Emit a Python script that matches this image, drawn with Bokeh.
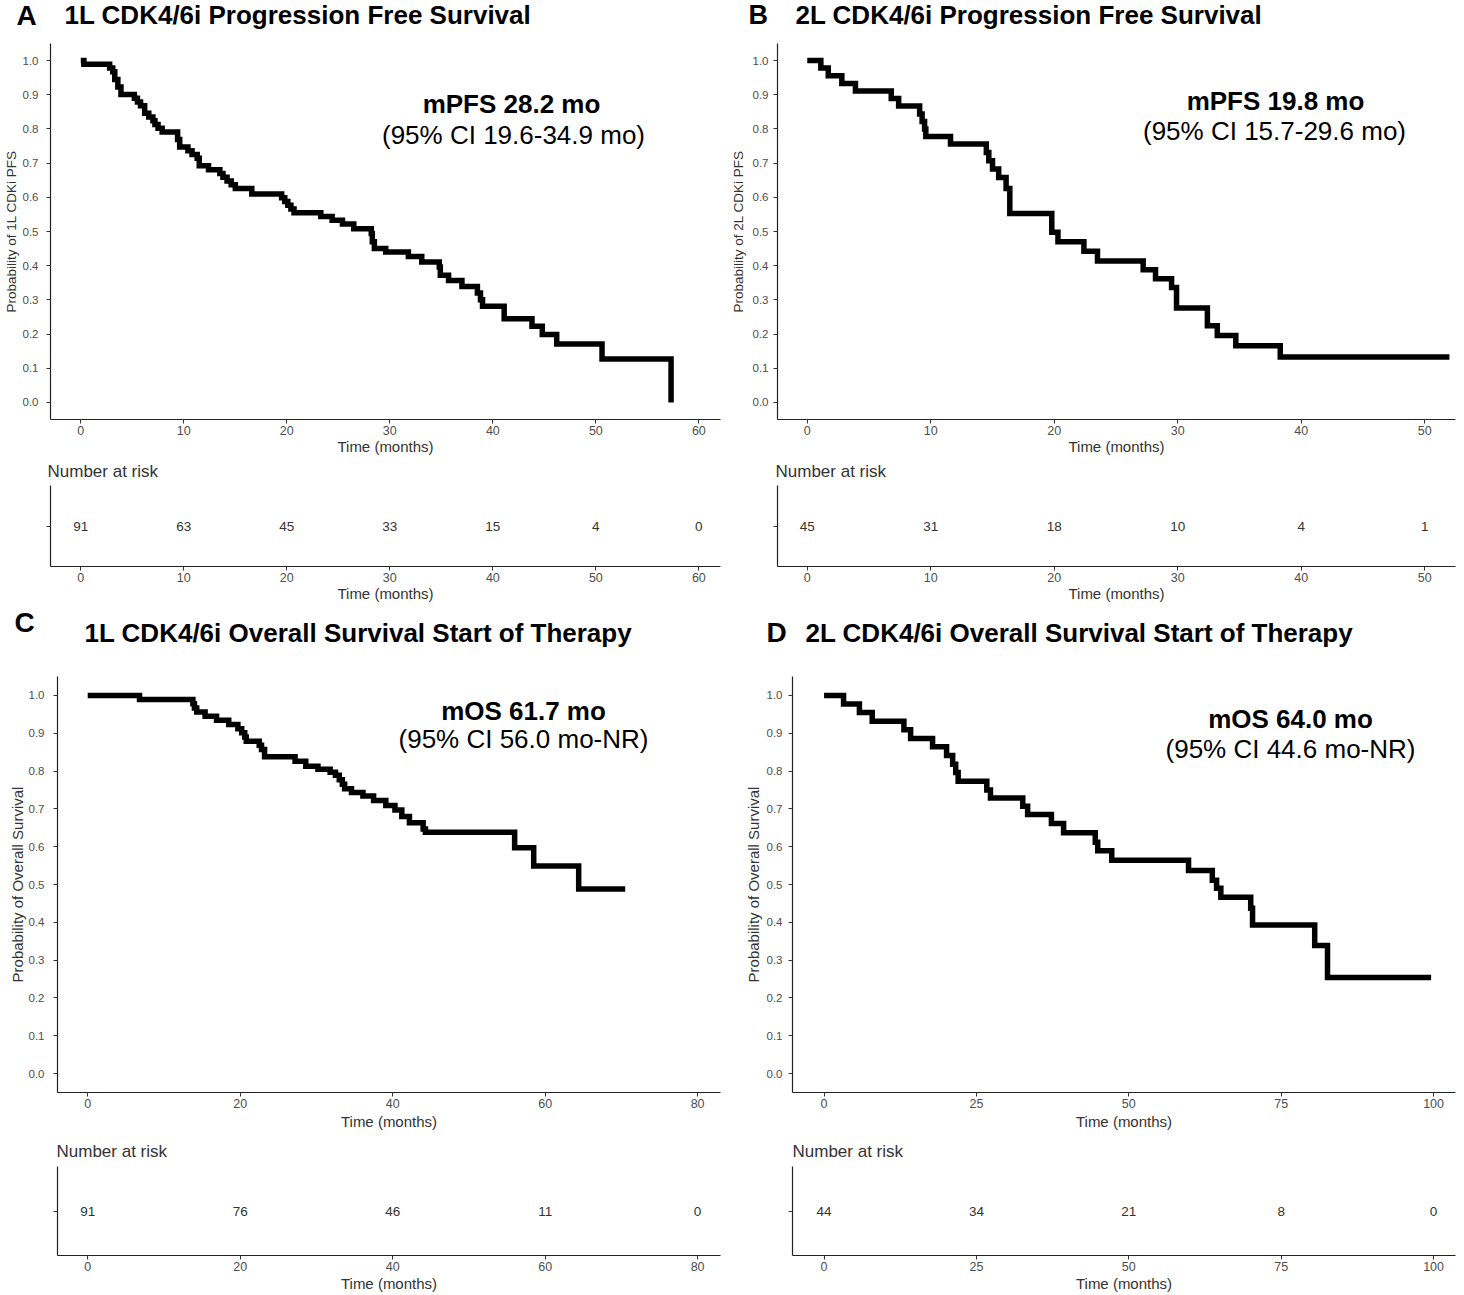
from bokeh.plotting import figure
from bokeh.models import Range1d, FixedTicker, Label, PrintfTickFormatter
from bokeh.layouts import column, row
from bokeh.embed import file_html
from bokeh.resources import INLINE
from bokeh.core.properties import value

FONT = "Liberation Sans"

# ---------------- data ----------------
# A: 1L CDK4/6i PFS  (time in months, survival after the step)
a_time = [0, 0.3, 2.8, 3.1, 3.3, 3.6, 3.9, 5.2, 5.5, 5.8, 6.2, 6.6, 7.0, 7.2, 7.5, 7.9,
          9.4, 9.6, 10.4, 10.8, 11.3, 11.5, 12.4, 13.5, 13.8, 14.2, 14.6, 15.0, 16.6,
          19.5, 19.8, 20.1, 20.4, 20.7, 23.3, 24.4, 25.4, 26.5, 28.2, 28.3, 28.5,
          29.6, 31.8, 33.1, 34.8, 34.9, 35.7, 37.0, 38.5, 38.8, 39.0, 41.1, 43.8,
          44.8, 46.2, 50.6, 57.3]
a_surv = [1.0, 0.989, 0.978, 0.967, 0.945, 0.923, 0.901, 0.890, 0.879, 0.868, 0.846,
          0.835, 0.824, 0.813, 0.802, 0.791, 0.769, 0.747, 0.736, 0.725, 0.714, 0.692,
          0.681, 0.670, 0.659, 0.648, 0.637, 0.626, 0.610, 0.599, 0.588, 0.577, 0.566,
          0.555, 0.544, 0.533, 0.522, 0.508, 0.494, 0.470, 0.450, 0.440, 0.427, 0.411,
          0.396, 0.372, 0.357, 0.339, 0.320, 0.300, 0.281, 0.245, 0.223, 0.199, 0.171,
          0.127, 0.0]
a_risk_t = [0, 10, 20, 30, 40, 50, 60]
a_risk_n = [91, 63, 45, 33, 15, 4, 0]

# B: 2L CDK4/6i PFS
b_time = [0, 1.1, 1.7, 2.8, 3.9, 6.8, 7.4, 9.1, 9.3, 9.5, 9.6, 11.6, 14.5, 14.7, 15.0,
          15.5, 16.1, 16.4, 19.8, 20.3, 22.4, 23.5, 27.2, 28.2, 29.5, 29.9, 32.4, 33.2,
          34.7, 38.3, 52.0]
b_surv = [1.0, 0.978, 0.956, 0.933, 0.911, 0.889, 0.867, 0.844, 0.822, 0.800, 0.778,
          0.756, 0.731, 0.707, 0.683, 0.658, 0.626, 0.553, 0.498, 0.470, 0.442, 0.414,
          0.388, 0.362, 0.336, 0.276, 0.224, 0.196, 0.166, 0.133, 0.133]
b_risk_t = [0, 10, 20, 30, 40, 50]
b_risk_n = [45, 31, 18, 10, 4, 1]

# C: 1L CDK4/6i OS
c_time = [0, 6.8, 13.8, 14.0, 14.3, 15.4, 16.9, 18.5, 19.7, 20.2, 20.6, 20.8, 22.5, 22.8,
          23.2, 27.2, 28.6, 30.2, 31.8, 32.5, 33.0, 33.4, 33.7, 34.6, 36.1, 37.5, 39.1,
          40.3, 41.2, 42.2, 44.0, 44.3, 56.0, 58.5, 64.4, 70.5]
c_surv = [1.0, 0.989, 0.978, 0.967, 0.956, 0.945, 0.934, 0.923, 0.912, 0.901, 0.890,
          0.879, 0.868, 0.857, 0.838, 0.826, 0.813, 0.805, 0.797, 0.789, 0.777, 0.765,
          0.753, 0.743, 0.734, 0.722, 0.709, 0.697, 0.680, 0.663, 0.647, 0.638, 0.597,
          0.549, 0.488, 0.488]
c_risk_t = [0, 20, 40, 60, 80]
c_risk_n = [91, 76, 46, 11, 0]

# D: 2L CDK4/6i OS
d_time = [0, 3.2, 5.8, 7.9, 13.1, 14.2, 17.8, 20.1, 21.1, 21.6, 22.0, 26.7, 27.3, 32.6,
          33.4, 37.3, 39.3, 44.5, 44.9, 47.2, 59.8, 63.7, 64.4, 65.1, 70.0, 70.3, 80.5,
          82.6, 99.6]
d_surv = [1.0, 0.977, 0.955, 0.932, 0.909, 0.886, 0.864, 0.841, 0.818, 0.796, 0.773,
          0.750, 0.729, 0.707, 0.685, 0.661, 0.637, 0.612, 0.589, 0.564, 0.537, 0.511,
          0.490, 0.466, 0.437, 0.393, 0.339, 0.254, 0.254]
d_risk_t = [0, 25, 50, 75, 100]
d_risk_n = [44, 34, 21, 8, 0]

y_ticks = [0.0, 0.1, 0.2, 0.3, 0.4, 0.5, 0.6, 0.7, 0.8, 0.9, 1.0]

# ---------------- helpers ----------------
def make_fig(ox, oy, w, h, mbl, mbr, mbt, mbb, xr, yr, axes=True):
    kw = {}
    if not axes:
        kw = dict(x_axis_type=None, y_axis_type=None)
    p = figure(width=w, height=h, output_backend="svg", toolbar_location=None,
               x_range=Range1d(*xr), y_range=Range1d(*yr),
               min_border_left=mbl, min_border_right=mbr,
               min_border_top=mbt, min_border_bottom=mbb, **kw)
    p.outline_line_color = None
    p.grid.visible = False
    p.background_fill_color = "white"
    p.border_fill_color = "white"
    p._ref = (ox + mbl, oy + h - mbb)  # frame left / bottom in page coordinates
    return p


def strip(ox, oy, w, h):
    return make_fig(ox, oy, w, h, 0, 0, 0, 0, (0, 1), (0, 1), axes=False)


def style_axis(ax, tick_fs, lab_fs, lab_standoff, tick_standoff):
    ax.axis_line_color = "#222222"
    ax.axis_line_width = 1.2
    ax.major_tick_line_color = "#333333"
    ax.major_tick_out = 4
    ax.major_tick_in = 0
    ax.minor_tick_line_color = None
    ax.major_label_text_font = FONT
    ax.major_label_text_font_size = f"{tick_fs}px"
    ax.major_label_text_color = "#4d4d4d"
    ax.major_label_standoff = tick_standoff
    ax.axis_label_text_font = FONT
    ax.axis_label_text_font_style = "normal"
    ax.axis_label_text_font_size = f"{lab_fs}px"
    ax.axis_label_text_color = "#333333"
    ax.axis_label_standoff = lab_standoff


def add_text(p, rx, ry, text, size, bold=False, align="left", color="black"):
    """Place a text whose visual centre line is at page position ry."""
    fl, fb = p._ref
    p.add_layout(Label(x=rx - fl, y=fb - ry, x_units="screen", y_units="screen",
                       text=text, text_font=FONT, text_font_size=f"{size}px",
                       text_font_style="bold" if bold else "normal",
                       text_align=align, text_baseline="middle", text_color=color))


def km(ox, oy, w, h, mbl, mbr, mbt, mbb, xr, xticks, t, s, ylabel, ylab_fs,
       ytick_standoff, ylab_standoff, xlab_standoff):
    p = make_fig(ox, oy, w, h, mbl, mbr, mbt, mbb, xr, (-0.05, 1.05))
    p.step(t, s, mode="after", line_width=5.5, line_color="black", line_join="miter")
    p.xaxis.ticker = FixedTicker(ticks=xticks)
    p.yaxis.ticker = FixedTicker(ticks=y_ticks)
    p.yaxis.formatter = PrintfTickFormatter(format="%.1f")
    p.xaxis.axis_label = "Time (months)"
    p.yaxis.axis_label = ylabel
    style_axis(p.xaxis[0], 12.5, 15, xlab_standoff, 2)
    style_axis(p.yaxis[0], 11.5, ylab_fs, ylab_standoff, ytick_standoff)
    return p


def risk(ox, oy, w, h, mbl, mbr, mbt, mbb, xr, xticks, n, xlab_standoff):
    p = make_fig(ox, oy, w, h, mbl, mbr, mbt, mbb, xr, (0, 1))
    p.text(x=xticks, y=[0.5] * len(xticks), text=[str(v) for v in n],
           text_font=value(FONT), text_font_size="13.5px", text_color="#333333",
           text_align="center", text_baseline="middle")
    p.xaxis.ticker = FixedTicker(ticks=xticks)
    p.yaxis.ticker = FixedTicker(ticks=[0.5])
    p.yaxis.major_label_overrides = {0.5: " "}
    p.xaxis.axis_label = "Time (months)"
    style_axis(p.xaxis[0], 12.5, 15, xlab_standoff, 2)
    style_axis(p.yaxis[0], 11.5, 12, 0, 0)
    return p


# ---------------- geometry (page coordinates) ----------------
LX, LW = 0, 727
RX, RW = 727, 735
H1Y, H1H = 0, 43
K1Y, K1H = 43, 415
N1Y, N1H = 458, 27
R1Y, R1H = 485, 121
H2Y, H2H = 606, 46
K2Y, K2H = 652, 481
N2Y, N2H = 1133, 33
R2Y, R2H = 1166, 128

XR_A = (-2.94, 62.1)
XR_B = (-2.41, 52.49)
XR_C = (-3.96, 83.0)
XR_D = (-5.18, 103.6)

# ---- headers ----
HA = strip(LX, H1Y, LW, H1H)
add_text(HA, 16, 15, "A", 28, bold=True)
add_text(HA, 64, 14, "1L CDK4/6i Progression Free Survival", 26, bold=True)
HB = strip(RX, H1Y, RW, H1H)
add_text(HB, 748, 14, "B", 27, bold=True)
add_text(HB, 795, 14, "2L CDK4/6i Progression Free Survival", 26, bold=True)

HC = strip(LX, H2Y, LW, H2H)
add_text(HC, 14, 622, "C", 28, bold=True)
add_text(HC, 84, 632, "1L CDK4/6i Overall Survival Start of Therapy", 26, bold=True)
HD = strip(RX, H2Y, RW, H2H)
add_text(HD, 766, 632, "D", 28, bold=True)
add_text(HD, 805, 632, "2L CDK4/6i Overall Survival Start of Therapy", 26, bold=True)

# ---- KM plots ----
A = km(LX, K1Y, LW, K1H, 50, 7, 0, 39, XR_A, a_risk_t, a_time, a_surv,
       "Probability of 1L CDKi PFS", 13.5, 8, 1, 0)
add_text(A, 511, 103, "mPFS 28.2 mo", 26, bold=True, align="center")
add_text(A, 513, 134, "(95% CI 19.6-34.9 mo)", 26, align="center")

B = km(RX, K1Y, RW, K1H, 50, 7, 0, 39, XR_B, b_risk_t, b_time, b_surv,
       "Probability of 2L CDKi PFS", 13.5, 5, 4, 0)
add_text(B, 1275, 100, "mPFS 19.8 mo", 26, bold=True, align="center")
add_text(B, 1274, 130, "(95% CI 15.7-29.6 mo)", 26, align="center")

C = km(LX, K2Y, LW, K2H, 57, 7, 0, 41, XR_C, c_risk_t, c_time, c_surv,
       "Probability of Overall Survival", 15, 9, 0, 2)
add_text(C, 523, 710, "mOS 61.7 mo", 26, bold=True, align="center")
add_text(C, 523, 738, "(95% CI 56.0 mo-NR)", 26, align="center")

D = km(RX, K2Y, RW, K2H, 65, 7, 24, 41, XR_D, d_risk_t, d_time, d_surv,
       "Probability of Overall Survival", 15, 6, 2, 2)
add_text(D, 1290, 718, "mOS 64.0 mo", 26, bold=True, align="center")
add_text(D, 1290, 748, "(95% CI 44.6 mo-NR)", 26, align="center")

# ---- "Number at risk" strips ----
NA = strip(LX, N1Y, LW, N1H)
add_text(NA, 47, 471, "Number at risk", 17, color="#333333")
NB = strip(RX, N1Y, RW, N1H)
add_text(NB, 775, 471, "Number at risk", 17, color="#333333")
NC = strip(LX, N2Y, LW, N2H)
add_text(NC, 56, 1151, "Number at risk", 17, color="#333333")
ND = strip(RX, N2Y, RW, N2H)
add_text(ND, 792, 1151, "Number at risk", 17, color="#333333")

# ---- risk tables ----
A_r = risk(LX, R1Y, LW, R1H, 50, 7, 0, 40, XR_A, a_risk_t, a_risk_n, 0)
B_r = risk(RX, R1Y, RW, R1H, 50, 7, 0, 40, XR_B, b_risk_t, b_risk_n, 0)
C_r = risk(LX, R2Y, LW, R2H, 57, 7, 0, 39, XR_C, c_risk_t, c_risk_n, 1)
D_r = risk(RX, R2Y, RW, R2H, 65, 7, 0, 39, XR_D, d_risk_t, d_risk_n, 1)

layout = column(row(HA, HB), row(A, B), row(NA, NB), row(A_r, B_r),
                row(HC, HD), row(C, D), row(NC, ND), row(C_r, D_r))

open("out.html", "w").write(file_html(layout, INLINE))
